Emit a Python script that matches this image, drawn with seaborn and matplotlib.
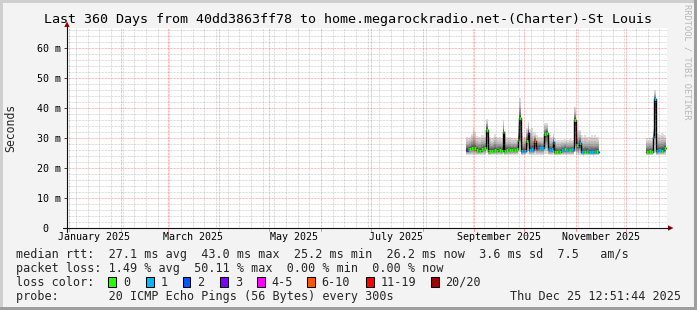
import numpy as np
import pandas as pd
import matplotlib
matplotlib.use('Agg')
import matplotlib.pyplot as plt
import matplotlib.dates as mdates
from matplotlib.patches import Rectangle, Polygon
from matplotlib.lines import Line2D
import seaborn as sns

# ---------------- data ----------------
t_start = '2024-12-30 12:51:44'
t_end = '2025-12-25 12:51:44'

seg1_start = '2025-08-27'
med1 = [26.0, 26.2, 26.3, 26.8, 26.8, 26.6, 26.0, 25.8, 25.8, 26.2,
        26.4, 26.6, 32.8, 25.6, 25.6, 25.8, 25.8, 26.0, 25.8, 26.2,
        26.0, 25.8, 32.0, 25.6, 26.0, 26.2, 26.0, 26.0, 26.2, 26.0,
        26.2, 29.5, 36.8, 25.6, 25.7, 25.8, 29.1, 31.8, 26.0, 26.3,
        26.0, 29.1, 26.6, 26.8, 26.8, 26.6, 26.8, 31.3, 31.8, 26.4,
        26.0, 26.2, 28.6, 25.4, 25.4, 25.6, 25.4, 26.0, 26.0, 26.2,
        26.0, 26.0, 26.0, 26.2, 26.0, 36.0, 27.7, 27.0, 28.4, 25.4,
        25.2, 25.4, 25.6, 25.4, 25.5, 25.4, 25.3, 25.4, 25.6, 25.4]
loss1 = [3, 0, 0, 0, 0, 0, 0, 0, 0, 0,
         0, 0, 0, 0, 0, 0, 0, 0, 0, 0,
         0, 0, 0, 0, 0, 0, 0, 0, 0, 0,
         0, 0, 0, 1, 1, 1, 0, 3, 1, 1,
         1, 5, 6, 1, 1, 1, 1, 0, 0, 1,
         1, 1, 1, 0, 0, 0, 0, 1, 1, 0,
         1, 1, 0, 1, 1, 0, 0, 1, 1, 1,
         0, 0, 1, 0, 1, 1, 0, 1, 0, 1]
top1 = [30.4, 30.0, 30.5, 31.5, 33.2, 32.0, 30.8, 30.5, 30.5, 31.0,
        31.0, 30.5, 36.5, 33.0, 30.5, 30.0, 30.5, 31.5, 30.5, 30.0,
        30.5, 30.0, 36.0, 32.0, 30.5, 30.0, 30.5, 30.0, 30.0, 30.0,
        30.0, 35.0, 43.2, 32.0, 30.5, 30.5, 33.5, 35.4, 33.0, 33.2,
        32.0, 31.6, 31.0, 30.5, 30.5, 30.5, 30.5, 34.9, 35.0, 31.5,
        31.0, 30.5, 31.6, 30.0, 29.5, 29.5, 29.5, 29.5, 29.5, 29.8,
        29.5, 29.5, 29.8, 29.5, 29.5, 40.4, 32.7, 32.5, 32.7, 31.0,
        30.5, 31.0, 30.5, 30.5, 30.5, 31.0, 30.5, 31.0, 30.5, 30.5]
low1 = [24.3, 24.3, 24.4, 24.5, 24.5, 24.4, 24.3, 24.3, 24.3, 24.4,
        24.4, 24.5, 25.0, 24.3, 24.3, 24.3, 24.3, 24.3, 24.3, 24.4,
        24.3, 24.3, 24.8, 24.3, 24.4, 24.4, 24.3, 24.3, 24.4, 24.3,
        24.4, 24.8, 25.5, 24.3, 24.3, 24.3, 24.6, 24.8, 24.3, 24.3,
        24.3, 24.5, 24.4, 24.4, 24.4, 24.4, 24.4, 24.8, 24.8, 24.3,
        24.3, 24.3, 24.4, 24.2, 24.2, 24.2, 24.2, 24.3, 24.3, 24.3,
        24.3, 24.3, 24.3, 24.3, 24.3, 25.2, 24.5, 24.4, 24.5, 24.2,
        24.1, 24.2, 24.2, 24.2, 24.2, 24.2, 24.1, 24.2, 24.2, 24.2]

seg2_start = '2025-12-13'
med2 = [25.4, 25.4, 25.6, 25.4, 30.4, 42.9, 25.6, 26.0, 26.0, 25.8, 26.0, 26.6]
loss2 = [0, 0, 0, 0, 1, 1, 1, 1, 1, 0, 1, 0]
top2 = [29.9, 29.5, 30.0, 29.9, 33.0, 46.0, 31.7, 31.5, 31.0, 31.7, 31.5, 31.0]
low2 = [24.3, 24.3, 24.3, 24.3, 24.6, 25.0, 24.3, 24.3, 24.3, 24.3, 24.3, 24.3]

loss_labels = ['0', '1', '2', '3', '4-5', '6-10', '11-19', '20/20']
loss_colors = ['#26ff00', '#00b8ff', '#0059ff', '#7e00ff', '#ff00ff',
               '#ff5500', '#ff0000', '#a00000']

month_labels = ['January 2025', 'March 2025', 'May 2025', 'July 2025',
                'September 2025', 'November 2025']
label_months = ['2025-01-01', '2025-03-01', '2025-05-01', '2025-07-01',
                '2025-09-01', '2025-11-01']
y_ticks = [0, 10, 20, 30, 40, 50, 60]
y_ticklabels = ['0  ', '10 m', '20 m', '30 m', '40 m', '50 m', '60 m']
y_max = 66.667

title = 'Last 360 Days from 40dd3863ff78 to home.megarockradio.net-(Charter)-St Louis'
line1 = 'median rtt:  27.1 ms avg  43.0 ms max  25.2 ms min  26.2 ms now  3.6 ms sd  7.5   am/s'
line2 = 'packet loss: 1.49 % avg  50.11 % max  0.00 % min  0.00 % now'
line3 = 'loss color:'
line4 = 'probe:       20 ICMP Echo Pings (56 Bytes) every 300s'
date_text = 'Thu Dec 25 12:51:44 2025'
box_x = [108.3, 145.7, 182.7, 220, 256.7, 306.7, 366, 430.7]

# ---------------- figure ----------------
sns.set_style('white')
plt.rcParams['font.family'] = ['DejaVu Sans Mono', 'DejaVu Sans']

W, H = 697, 310
fig = plt.figure(figsize=(W / 100, H / 100), dpi=100, facecolor='#f3f3f3')


def P(x, y):
    return (x / W, 1 - y / H)


L, R, T, B = 67, 667, 28, 228
ax = fig.add_axes([L / W, 1 - B / H, (R - L) / W, (B - T) / H])
ax.set_facecolor('white')
for s in ax.spines.values():
    s.set_visible(False)

ts0 = pd.Timestamp(t_start)
ts1 = pd.Timestamp(t_end)
x0 = mdates.date2num(ts0)
x1 = mdates.date2num(ts1)
ax.set_xlim(x0, x1)
ax.set_ylim(0, y_max)

smoke_cols = ['#%02x%02x%02x' % (c, c, c) for c in [221, 202, 183, 164, 145, 126, 107, 88, 69, 50]]
UP = [1.0, 0.80, 0.62, 0.48, 0.37, 0.28, 0.20, 0.13, 0.07, 0.03]
DN = [1.0, 0.86, 0.73, 0.61, 0.49, 0.38, 0.28, 0.19, 0.11, 0.05]


def draw_segment(start, med, top, low, loss):
    med = np.array(med, float)
    top = np.array(top, float)
    low = np.array(low, float)
    n = len(med)
    edges = mdates.date2num(pd.date_range(start, periods=n + 1, freq='D'))
    for k in range(len(UP)):
        hi = med + (top - med) * UP[k]
        lo = med - (med - low) * DN[k]
        ax.fill_between(edges, np.append(lo, lo[-1]), np.append(hi, hi[-1]),
                        step='post', color=smoke_cols[k], lw=0, zorder=1 + k * 0.01)
    df = pd.DataFrame({'t': edges, 'm': np.append(med, med[-1])})
    sns.lineplot(data=df, x='t', y='m', drawstyle='steps-post', color='black',
                 lw=1.0, ax=ax, estimator=None, zorder=3)
    ax.hlines(med, edges[:-1], edges[1:], colors=[loss_colors[c] for c in loss],
              lw=2.2, zorder=4)


draw_segment(seg1_start, med1, top1, low1, loss1)
draw_segment(seg2_start, med2, top2, low2, loss2)

# grid (on top, semi-transparent like rrdtool)
gcol = (0.5, 0.5, 0.5, 0.37)
mcol = (1.0, 0.0, 0.0, 0.37)
dash = (0, (0.72, 0.72))
for v in np.arange(2, y_max, 2):
    if v % 10:
        ax.axhline(v, color=gcol, lw=0.72, ls=dash, zorder=5)
for v in y_ticks[1:]:
    ax.axhline(v, color=mcol, lw=0.72, ls=dash, zorder=5)
month_days = pd.date_range(ts0.normalize(), ts1, freq='MS')
week_days = pd.date_range(ts0.normalize(), ts1, freq='W-SUN')
months = [mdates.date2num(d) for d in month_days]
weeks = [mdates.date2num(d) for d in week_days]
for w in weeks:
    if x0 < w < x1 and w not in months:
        ax.axvline(w, color=gcol, lw=0.72, ls=dash, zorder=5)
for m in months:
    if x0 < m < x1:
        ax.axvline(m, color=mcol, lw=0.72, ls=dash, zorder=5)
        ax.plot([m, m], [-0.015, 0], transform=ax.get_xaxis_transform(),
                color=(1, 0.55, 0.55), lw=0.72, clip_on=False, zorder=6)

# ticks and labels
ax.set_yticks(y_ticks)
ax.set_yticklabels(y_ticklabels)
ax.tick_params(axis='y', length=2.2, width=0.7, color='#404040', pad=2.2,
               labelsize=7.2, labelcolor='black', left=True)
lab_pos = [mdates.date2num(pd.Timestamp(d) + pd.Timedelta(days=15)) for d in label_months]
ax.set_xticks(lab_pos)
ax.set_xticklabels(month_labels)
ax.tick_params(axis='x', length=0, pad=3.2, labelsize=7.2, labelcolor='black')
ax.set_xlabel('')
ax.set_ylabel('')

# axes lines and arrows
fig.add_artist(Line2D([P(67, 0)[0]] * 2, [P(0, 232)[1], P(0, 25)[1]], color='#101010', lw=0.8))
fig.add_artist(Line2D([P(63, 0)[0], P(670, 0)[0]], [P(0, 228)[1]] * 2, color='#101010', lw=0.8))
fig.add_artist(Polygon([P(67, 21.5), P(64.3, 27), P(69.7, 27)], closed=True,
                       transform=fig.transFigure, color='#a00000', lw=0))
fig.add_artist(Polygon([P(673.5, 228), P(668, 225.3), P(668, 230.7)], closed=True,
                       transform=fig.transFigure, color='#a00000', lw=0))

# texts
fig.text(*P(348, 19), title, ha='center', va='center', fontsize=9.6, color='black')
fig.text(*P(11, 128), 'Seconds', rotation=90, ha='center', va='center', fontsize=8.3)
fig.text(*P(687.5, 62), 'RRDTOOL / TOBI OETIKER', rotation=270, ha='center', va='center',
         fontsize=6.2, color='#b8b8b8')

LF = 8.45
ry = [254.8, 268.6, 282.4, 296.2]
fig.text(*P(16, ry[0]), line1, ha='left', va='center', fontsize=LF)
fig.text(*P(16, ry[1]), line2, ha='left', va='center', fontsize=LF)
fig.text(*P(16, ry[2]), line3, ha='left', va='center', fontsize=LF)
for bx, lab, col in zip(box_x, loss_labels, loss_colors):
    fig.add_artist(Rectangle(P(bx, ry[2] + 5.0), 7.8 / W, 10.0 / H, transform=fig.transFigure,
                             facecolor=col, edgecolor='black', lw=0.75))
    fig.text(*P(bx + 14.8, ry[2]), lab, ha='left', va='center', fontsize=LF)
fig.text(*P(16, ry[3]), line4, ha='left', va='center', fontsize=LF)
fig.text(*P(681, ry[3]), date_text, ha='right', va='center', fontsize=LF)

# frame shading
fig.add_artist(Rectangle((0, 0), 3 / W, 1, transform=fig.transFigure, color='#cfcfcf', lw=0))
fig.add_artist(Rectangle((0, 1 - 3 / H), 1, 3 / H, transform=fig.transFigure, color='#cfcfcf', lw=0))
fig.add_artist(Rectangle((1 - 3 / W, 0), 3 / W, 1, transform=fig.transFigure, color='#9e9e9e', lw=0))
fig.add_artist(Rectangle((0, 0), 1, 3 / H, transform=fig.transFigure, color='#9e9e9e', lw=0))

fig.savefig('out.png', dpi=100, facecolor=fig.get_facecolor())
